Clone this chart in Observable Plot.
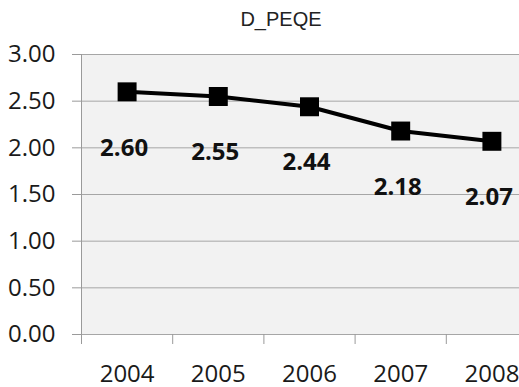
<!DOCTYPE html>
<html>
<head>
<meta charset="utf-8">
<script src="https://cdn.jsdelivr.net/npm/d3@7"></script>
<script src="https://cdn.jsdelivr.net/npm/@observablehq/plot@0.6"></script>
<style>
  html, body { margin: 0; padding: 0; background: #fff; overflow: hidden; }
  #wrap { width: 562px; }
  #title { height: 40px; box-sizing: border-box; padding-top: 9px; line-height: 20px;
    text-align: center; font-family: "Liberation Sans", Arial, sans-serif; font-size: 20px; color: #222; }
</style>
</head>
<body>
<div id="wrap">
  <div id="title"></div>
  <div id="chart"></div>
</div>
<script>
const chartTitle = "D_PEQE";
const years = [2004, 2005, 2006, 2007, 2008];
const values = [2.60, 2.55, 2.44, 2.18, 2.07];
const yTicks = [0, 0.5, 1, 1.5, 2, 2.5, 3];

document.getElementById("title").textContent = chartTitle;

const data = years.map((year, i) => ({year, value: values[i]}));
const xDomain = [years[0] - 0.5, years[years.length - 1] + 0.5];
const boundaries = years.map(y => y - 0.5).concat([xDomain[1]]);
const gray = "#9a9a9a";
const font = "Open Sans";

const chart = Plot.plot({
  width: 562,
  height: 347,
  marginLeft: 81,
  marginRight: 25,
  marginTop: 14,
  marginBottom: 53,
  style: {fontFamily: font, fontSize: "24px", background: "transparent", overflow: "visible"},
  x: {type: "linear", domain: xDomain, axis: null, label: null},
  y: {domain: [0, 3], axis: null, label: null},
  marks: [
    Plot.frame({fill: "#f2f2f2", stroke: null}),
    Plot.gridY(yTicks, {stroke: "#a6a6a6", strokeOpacity: 1, strokeWidth: 1}),
    Plot.ruleX([xDomain[0]], {stroke: gray, strokeWidth: 1}),
    Plot.axisY(yTicks, {tickSize: 9, tickPadding: 17, tickFormat: d3.format(".2f"), label: null,
      stroke: gray, fill: "#1a1a1a", fontSize: 24, fontFamily: font}),
    Plot.axisX(boundaries, {tickSize: 10, tickFormat: () => "", label: null, stroke: gray}),
    Plot.axisX(years, {tickSize: 0, tickPadding: 30, tickFormat: d => String(d), label: null,
      fill: "#1a1a1a", fontSize: 24, fontFamily: font}),
    Plot.line(data, {x: "year", y: "value", stroke: "black", strokeWidth: 4}),
    Plot.dot(data, {x: "year", y: "value", symbol: "square", r: 10.7, fill: "black", stroke: null}),
    Plot.text(data, {x: "year", y: "value", text: d => d.value.toFixed(2), dy: 56, dx: -3,
      fontWeight: "bold", fontSize: 24, fontFamily: font, fill: "#111"})
  ]
});
document.getElementById("chart").appendChild(chart);
</script>
</body>
</html>
